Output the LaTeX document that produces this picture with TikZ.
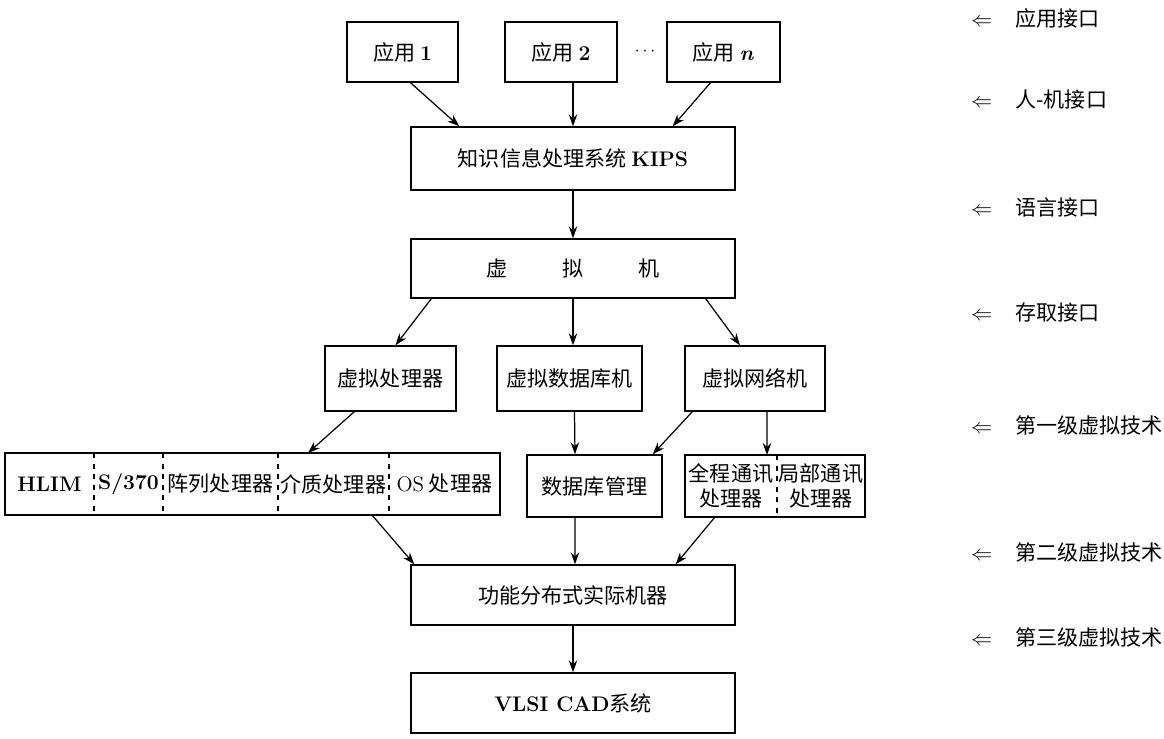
\documentclass[tikz,border=0pt]{standalone}
\usepackage{fontspec}
\newfontfamily\cjk{Noto Sans CJK SC}
\newcommand{\eng}[1]{{\normalfont\bfseries #1}}
\usetikzlibrary{arrows.meta, positioning}

\begin{document}
\begin{tikzpicture}[x=0.02cm, y=-0.02cm,
    box/.style={rectangle, draw, line width=0.8pt, minimum height=1.2cm, align=center,
                font=\cjk\fontsize{12}{15}\selectfont},
    cell/.style={rectangle, minimum height=1.24cm, inner sep=1pt, outer sep=0pt, align=center,
                 font=\cjk\fontsize{12}{14}\selectfont},
    divider/.style={dashed, line width=0.7pt},
    arr/.style={-{Stealth[length=2.4mm, width=1.7mm]}, line width=0.7pt},
    layer/.style={anchor=west, font=\cjk\fontsize{12}{15}\selectfont}]
    \useasboundingbox (0,0) rectangle (1164,738);

    % Applications
    \node[box, minimum width=2.22cm] (app1) at (402.5, 52) {应用 \eng{1}};
    \node[box, minimum width=2.24cm] (app2) at (561, 52) {应用 \eng{2}};
    \node (dots) at (645, 52) {$\cdots$};
    \node[box, minimum width=2.26cm] (appn) at (723.5, 52) {应用 \eng{\textit{n}}};

    % Main column
    \node[box, minimum width=6.48cm, minimum height=1.26cm] (kips) at (573, 158.5) {知识信息处理系统 \eng{KIPS}};
    \node[box, minimum width=6.48cm, minimum height=1.18cm] (vm) at (573, 268.5) {虚\hspace{2.6em}拟\hspace{2.6em}机};

    % First level
    \node[box, minimum width=2.62cm, minimum height=1.3cm] (vproc) at (390.5, 378.5) {虚拟处理器};
    \node[box, minimum width=2.9cm, minimum height=1.3cm] (vdb) at (569.5, 378.5) {虚拟数据库机};
    \node[box, minimum width=2.8cm, minimum height=1.3cm] (vnet) at (755, 378.5) {虚拟网络机};

    % Second level
    \node[cell, minimum width=1.78cm] (hlim) at (49.5, 484) {\eng{HLIM}};
    \node[cell, minimum width=1.38cm, right=0pt of hlim] (s370) {\eng{S/370}};
    \node[cell, minimum width=2.3cm, right=0pt of s370] (array) {阵列处理器};
    \node[cell, minimum width=2.22cm, right=0pt of array] (media) {介质处理器};
    \node[cell, minimum width=2.22cm, right=0pt of media] (os) {{\normalfont OS}\ 处理器};
    \draw[line width=0.8pt] (hlim.north west) rectangle (os.south east);
    \foreach \c in {hlim, s370, array, media}
        \draw[divider] (\c.north east) -- (\c.south east);

    \node[box, minimum width=2.7cm, minimum height=1.24cm] (dbm) at (594.5, 486) {数据库管理};

    \node[cell, minimum width=1.84cm] (glob) at (731, 486) {全程通讯\\处理器};
    \node[cell, minimum width=1.76cm, right=0pt of glob] (loc) {局部通讯\\处理器};
    \draw[line width=0.8pt] (glob.north west) rectangle (loc.south east);
    \draw[divider] (glob.north east) -- (glob.south east);

    % Third level
    \node[box, minimum width=6.48cm] (func) at (573, 595) {功能分布式实际机器};
    \node[box, minimum width=6.48cm] (vlsi) at (573, 703) {\eng{VLSI CAD}系统};

    % Connections
    \draw[arr] ([xshift=0.16cm]app1.south) -- ([xshift=0.98cm]kips.north west);
    \draw[arr] (app2.south -| kips.north) -- (kips.north);
    \draw[arr] ([xshift=-0.26cm]appn.south) -- ([xshift=-1.26cm]kips.north east);
    \draw[arr] (kips.south) -- (vm.north);
    \draw[arr] ([xshift=0.42cm]vm.south west) -- ([xshift=0.1cm]vproc.north);
    \draw[arr] (vm.south) -- (vm.south |- vdb.north);
    \draw[arr] ([xshift=-0.6cm]vm.south east) -- ([xshift=-0.3cm]vnet.north);
    \draw[arr] ([xshift=0.6cm]vproc.south west) -- ([xshift=-0.51cm]media.north);
    \draw[arr] ([xshift=0.1cm]vdb.south) -- ([xshift=-0.39cm]dbm.north);
    \draw[arr] ([xshift=0.16cm]vnet.south west) -- ([xshift=-0.2cm]dbm.north east);
    \draw[arr] ([xshift=0.24cm]vnet.south) -- ([xshift=0.72cm]glob.north);
    \draw[arr] ([xshift=0.77cm]media.south) -- ([xshift=0.08cm]func.north west);
    \draw[arr] ([xshift=-0.39cm]dbm.south) -- ([xshift=0.04cm]func.north);
    \draw[arr] ([xshift=-0.32cm]glob.south) -- ([xshift=-1.2cm]func.north east);
    \draw[arr] (func.south) -- (vlsi.north);

    % Interfaces
    \node[layer] (l1) at (965, 18) {$\Leftarrow$\hspace{1.1em}应用接口};
    \node[layer] (l2) at (965, 100) {$\Leftarrow$\hspace{1.1em}人-机接口};
    \node[layer] (l3) at (965, 207) {$\Leftarrow$\hspace{1.1em}语言接口};
    \node[layer] (l4) at (965, 313) {$\Leftarrow$\hspace{1.1em}存取接口};
    \node[layer] (l5) at (965, 425) {$\Leftarrow$\hspace{1.1em}第一级虚拟技术};
    \node[layer] (l6) at (965, 552) {$\Leftarrow$\hspace{1.1em}第二级虚拟技术};
    \node[layer] (l7) at (965, 637) {$\Leftarrow$\hspace{1.1em}第三级虚拟技术};
\end{tikzpicture}
\end{document}
